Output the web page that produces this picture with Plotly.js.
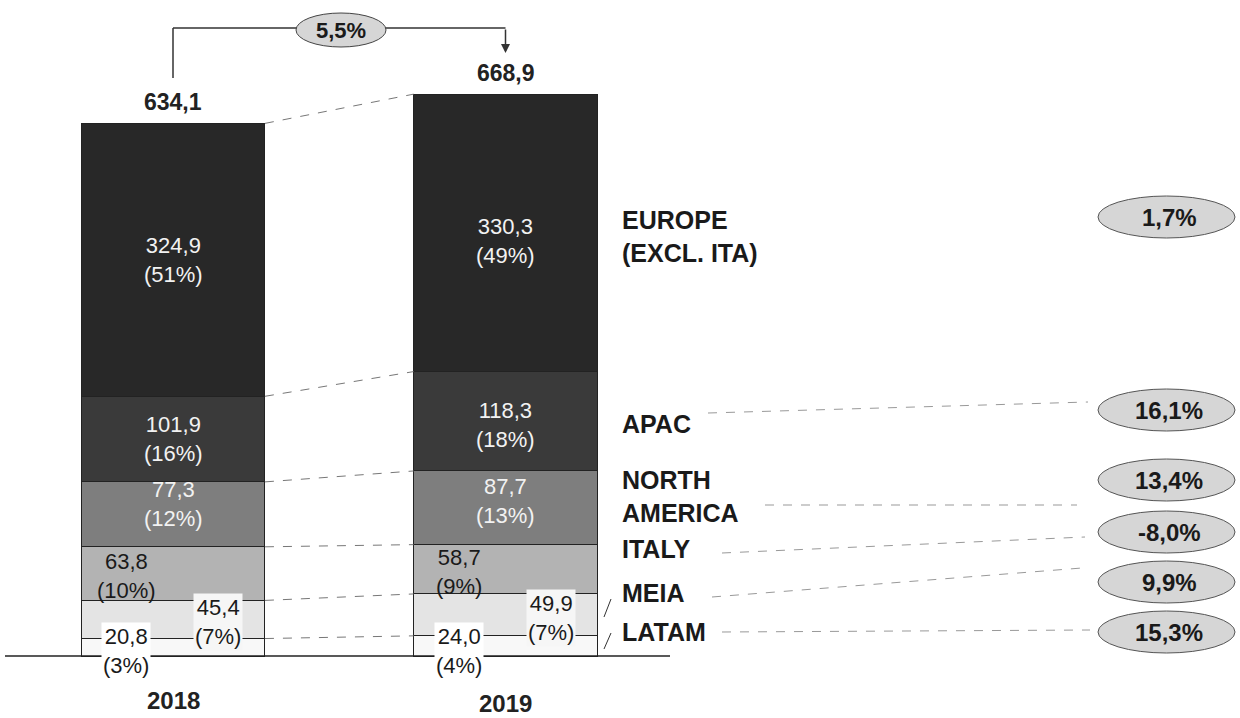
<!DOCTYPE html>
<html>
<head>
<meta charset="utf-8">
<script src="https://cdn.plot.ly/plotly-3.0.1.min.js"></script>
<style>html,body{margin:0;padding:0;background:#fff;}#chart{width:1240px;height:718px;}</style>
</head>
<body>
<div id="chart"></div>
<script>
// ---------- DATA ----------
const years = ['2018', '2019'];
const regions = ['LATAM', 'MEIA', 'ITALY', 'NORTH<br>AMERICA', 'APAC', 'EUROPE<br>(EXCL. ITA)'];
const values2018 = [20.8, 45.4, 63.8, 77.3, 101.9, 324.9];
const values2019 = [24.0, 49.9, 58.7, 87.7, 118.3, 330.3];
const shares2018 = ['3%', '7%', '10%', '12%', '16%', '51%'];
const shares2019 = ['4%', '7%', '9%', '13%', '18%', '49%'];
const totals = [634.1, 668.9];
const growthLabels = ['15,3%', '9,9%', '-8,0%', '13,4%', '16,1%', '1,7%'];
const totalGrowthLabel = '5,5%';

// ---------- STYLE ----------
const W = 1240, H = 718;
const FONT = 'Liberation Sans, Arial, sans-serif';
const barWidth = 0.553;
const fills = ['#f8f8f8', '#e4e4e4', '#b3b3b3', '#7e7e7e', '#3a3a3a', '#282828'];
const textCols = ['#1a1a1a', '#1a1a1a', '#1a1a1a', '#f2f2f2', '#f2f2f2', '#f2f2f2'];
const labelDx = [-47, 45, -47, 0, 0, 0];
const labelDy = [[-4, -5], [-3, -3], [-2, -3], [10, 7], [0, -4], [0, -8]];
const labelBg = ['#ffffff', '#f6f6f6', null, null, null, null];
const rightLabelDy = [14, 22, 20, 11, -3, -4];
const ellipseCY = [632, 582, 532, 480, 410, 217];
const leaderLines = [[722, 632, 1090, 630], [712, 597, 1082, 568], [722, 553, 1085, 537], [765, 505, 1077, 505], [708, 413, 1088, 402], null];

const px = x => x / W;
const py = y => 1 - y / H;
const fmt = v => v.toFixed(1).replace('.', ',');

const series = [values2018, values2019];
const shares = [shares2018, shares2019];

// ---------- TRACES ----------
const traces = regions.map((r, i) => ({
  type: 'bar',
  name: r,
  x: [0, 1],
  y: [values2018[i], values2019[i]],
  width: [barWidth, barWidth],
  marker: {color: fills[i], line: {color: '#222', width: 1}},
  hoverinfo: 'skip',
  showlegend: false
}));

// cumulative bases
const cum = series.map(vals => {
  const out = [0];
  vals.forEach(v => out.push(out[out.length - 1] + v));
  return out;
});

const annotations = [];
const shapes = [];

// segment labels
series.forEach((vals, yi) => {
  vals.forEach((v, i) => {
    const a = {
      x: yi, y: cum[yi][i] + v / 2, xref: 'x', yref: 'y',
      xanchor: 'center', yanchor: 'middle',
      text: fmt(v) + '<br>(' + shares[yi][i] + ')',
      showarrow: false, xshift: labelDx[i], yshift: labelDy[i][yi],
      font: {family: FONT, size: 22, color: textCols[i]},
      align: 'center'
    };
    if (labelBg[i]) { a.bgcolor = labelBg[i]; a.borderpad = 1; }
    annotations.push(a);
  });
  // totals
  annotations.push({
    x: yi, y: totals[yi], xref: 'x', yref: 'y', xanchor: 'center', yanchor: 'bottom', yshift: 6,
    text: '<b>' + fmt(totals[yi]) + '</b>', showarrow: false,
    font: {family: FONT, size: 23, color: '#222'}
  });
  // years
  annotations.push({
    x: yi, y: 0, xref: 'x', yref: 'y', xanchor: 'center', yanchor: 'middle', yshift: yi === 0 ? -44 : -47,
    text: '<b>' + years[yi] + '</b>', showarrow: false,
    font: {family: FONT, size: 24, color: '#222'}
  });
});

// connector dashed lines between bars at segment boundaries
for (let k = 1; k < cum[0].length; k++) {
  shapes.push({
    type: 'line', xref: 'x', yref: 'y',
    x0: barWidth / 2, x1: 1 - barWidth / 2,
    y0: cum[0][k], y1: cum[1][k],
    line: {color: '#777', width: 1, dash: 'dash'}
  });
}

// baseline
shapes.push({type: 'line', xref: 'paper', yref: 'y', x0: px(5), x1: px(670), y0: 0, y1: 0,
  line: {color: '#222', width: 1.5}});

// right region labels
regions.forEach((r, i) => {
  annotations.push({
    x: 1, y: cum[1][i] + values2019[i] / 2, xref: 'x', yref: 'y',
    xanchor: 'left', yanchor: 'middle', xshift: 114, yshift: rightLabelDy[i],
    text: '<b>' + r + '</b>', align: 'left', showarrow: false,
    font: {family: FONT, size: 25, color: '#1a1a1a'}
  });
  const L = leaderLines[i];
  if (L) {
    shapes.push({type: 'line', xref: 'paper', yref: 'paper',
      x0: px(L[0]), y0: py(L[1]), x1: px(L[2]), y1: py(L[3]),
      line: {color: '#999', width: 1, dash: 'dash'}});
  }
  const cy = ellipseCY[i];
  shapes.push({type: 'circle', xref: 'paper', yref: 'paper',
    x0: px(1098), x1: px(1235), y0: py(cy - 21), y1: py(cy + 21),
    fillcolor: '#d6d6d6', line: {color: '#555', width: 1}});
  annotations.push({
    x: px(1169), y: py(cy), xref: 'paper', yref: 'paper', xanchor: 'center', yanchor: 'middle',
    text: '<b>' + growthLabels[i] + '</b>', showarrow: false,
    font: {family: FONT, size: 24, color: '#1a1a1a'}
  });
});

// small leader slashes for MEIA and LATAM
shapes.push({type: 'line', xref: 'paper', yref: 'paper', x0: px(604), y0: py(617), x1: px(611), y1: py(599), line: {color: '#333', width: 1}});
shapes.push({type: 'line', xref: 'paper', yref: 'paper', x0: px(604), y0: py(649), x1: px(611), y1: py(633), line: {color: '#333', width: 1}});

// total growth arrow
shapes.push({type: 'line', xref: 'x', yref: 'paper', x0: 0, x1: 0, y0: py(78), y1: py(28), line: {color: '#333', width: 1.5}});
shapes.push({type: 'line', xref: 'x', yref: 'paper', x0: 0, x1: 1, y0: py(28), y1: py(28), line: {color: '#333', width: 1.5}});
annotations.push({x: 1, y: py(53), xref: 'x', yref: 'paper', ax: 0, ay: -25, text: '',
  showarrow: true, arrowhead: 2, arrowsize: 1.2, arrowwidth: 1.5, arrowcolor: '#333'});
shapes.push({type: 'circle', xref: 'paper', yref: 'paper', x0: px(296), x1: px(386), y0: py(13), y1: py(47),
  fillcolor: '#d6d6d6', line: {color: '#444', width: 1}});
annotations.push({x: px(341), y: py(30), xref: 'paper', yref: 'paper', xanchor: 'center', yanchor: 'middle',
  text: '<b>' + totalGrowthLabel + '</b>',
  showarrow: false, font: {family: FONT, size: 22, color: '#1a1a1a'}});

const layout = {
  width: W, height: H,
  margin: {l: 0, r: 0, t: 0, b: 0},
  paper_bgcolor: '#fff', plot_bgcolor: '#fff',
  barmode: 'stack',
  xaxis: {range: [-0.5203, 3.209], visible: false, fixedrange: true},
  yaxis: {range: [-73.8, 781], visible: false, fixedrange: true},
  shapes: shapes,
  annotations: annotations,
  showlegend: false
};

Plotly.newPlot('chart', traces, layout, {staticPlot: true, displayModeBar: false});
</script>
</body>
</html>
